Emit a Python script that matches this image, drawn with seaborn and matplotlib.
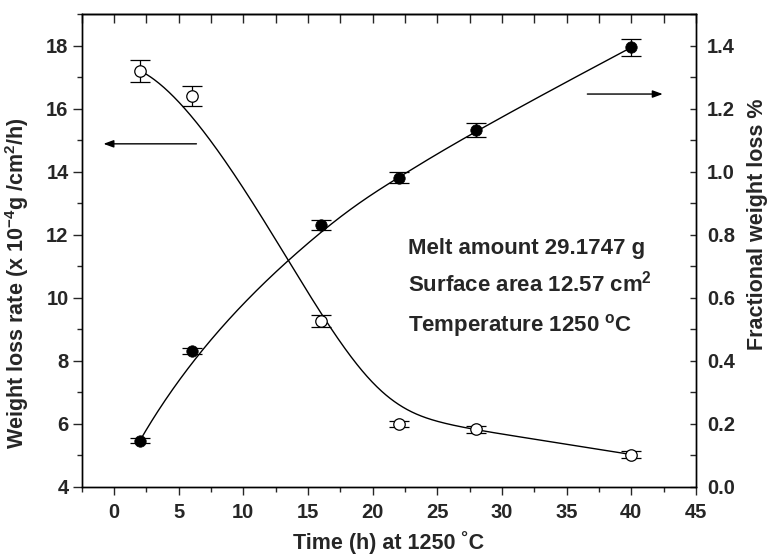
import numpy as np
import matplotlib
matplotlib.use("Agg")
import matplotlib.pyplot as plt
from matplotlib.ticker import MultipleLocator
import seaborn as sns

# ---- data ----
time_h = [2, 6, 16, 22, 28, 40]
rate = [17.2, 16.4, 9.25, 5.98, 5.82, 5.02]          # weight loss rate (x 1e-4 g/cm2/h)
rate_err = [0.35, 0.33, 0.19, 0.10, 0.12, 0.10]
frac = [0.146, 0.431, 0.829, 0.981, 1.133, 1.394]    # fractional weight loss %
frac_err = [0.008, 0.009, 0.016, 0.018, 0.022, 0.028]

x_ticks = [0, 5, 10, 15, 20, 25, 30, 35, 40, 45]
left_ticks = [4, 6, 8, 10, 12, 14, 16, 18]
right_ticks = [0.0, 0.2, 0.4, 0.6, 0.8, 1.0, 1.2, 1.4]

annotations = ["Melt amount 29.1747 g",
               r"Surface area 12.57 cm$^{\mathbf{2}}$",
               r"Temperature 1250 $^{\mathbf{o}}$C"]


def bspline_curve(px, py, k=3, n=400):
    """Clamped cubic B-spline using the data points as control points."""
    P = np.column_stack([px, py]).astype(float)
    m = len(P)
    kv = np.concatenate([np.zeros(k), np.linspace(0, 1, m - k + 1), np.ones(k)])
    t = np.linspace(0, 1, n)
    N = np.zeros((n, len(kv) - 1))
    for i in range(len(kv) - 1):
        N[:, i] = (t >= kv[i]) & (t < kv[i + 1])
    N[-1, :] = 0
    idx = np.max(np.where(kv[:-1] < kv[1:])[0])
    N[-1, idx] = 1
    for p in range(1, k + 1):
        Nn = np.zeros((n, len(kv) - 1 - p))
        for i in range(len(kv) - 1 - p):
            d1 = kv[i + p] - kv[i]
            d2 = kv[i + p + 1] - kv[i + 1]
            a = (t - kv[i]) / d1 * N[:, i] if d1 > 0 else 0
            b = (kv[i + p + 1] - t) / d2 * N[:, i + 1] if d2 > 0 else 0
            Nn[:, i] = a + b
        N = Nn
    C = N @ P
    return C[:, 0], C[:, 1]


sns.set_style("ticks")
plt.rcParams["font.family"] = ["Liberation Sans", "DejaVu Sans"]
plt.rcParams["font.weight"] = "bold"
plt.rcParams["axes.labelweight"] = "bold"
plt.rcParams["mathtext.fontset"] = "custom"
plt.rcParams["mathtext.rm"] = "Liberation Sans:bold"
plt.rcParams["mathtext.bf"] = "Liberation Sans:bold"
plt.rcParams["mathtext.it"] = "Liberation Sans:bold"
plt.rcParams["mathtext.default"] = "bf"

fig = plt.figure(figsize=(7.71, 5.56), dpi=100)
ax = fig.add_axes([0.106, 0.1247, 0.7967, 0.8501])
ax2 = ax.twinx()

# ---- weight loss rate (open circles, left axis) ----
cx, cy = bspline_curve(time_h, rate)
sns.lineplot(x=cx, y=cy, sort=False, estimator=None, ax=ax, color="black", lw=1.0, zorder=2)
ax.errorbar(time_h, rate, yerr=rate_err, fmt="none", ecolor="black", elinewidth=0.9,
            capsize=7.5, capthick=0.9, zorder=3)
sns.scatterplot(x=time_h, y=rate, ax=ax, marker="o", s=68, facecolor="white",
                edgecolor="black", linewidth=0.9, zorder=4)

# ---- fractional weight loss (filled circles, right axis) ----
fx, fy = bspline_curve(time_h, frac)
sns.lineplot(x=fx, y=fy, sort=False, estimator=None, ax=ax2, color="black", lw=1.0, zorder=2)
ax2.errorbar(time_h, frac, yerr=frac_err, fmt="none", ecolor="black", elinewidth=0.9,
             capsize=7.5, capthick=0.9, zorder=3)
sns.scatterplot(x=time_h, y=frac, ax=ax2, marker="o", s=68, color="black",
                edgecolor="black", linewidth=0.5, zorder=4)

# ---- axes ----
ax.set_xlim(-2.5, 45)
ax.set_ylim(4, 19)
ax2.set_ylim(0, 1.5)
ax.set_xticks(x_ticks)
ax.set_yticks(left_ticks)
ax2.set_yticks(right_ticks)
ax.set_xticklabels([str(v) for v in x_ticks])
ax.set_yticklabels([str(v) for v in left_ticks])
ax2.set_yticklabels([f"{v:.1f}" for v in right_ticks])
ax.xaxis.set_minor_locator(MultipleLocator(2.5))
ax.yaxis.set_minor_locator(MultipleLocator(1))
ax2.yaxis.set_minor_locator(MultipleLocator(0.1))

for a in (ax, ax2):
    for s in a.spines.values():
        s.set_linewidth(1.0)
        s.set_color("black")
        s.set_visible(True)

ax.tick_params(axis="x", which="major", direction="out", length=6, width=1.0,
               labelsize=14.5, pad=6, top=False)
ax.tick_params(axis="x", which="minor", direction="out", length=3.5, width=1.0, top=False)
ax.tick_params(axis="y", which="major", direction="out", length=6.5, width=1.0,
               labelsize=14.5, pad=3)
ax.tick_params(axis="y", which="minor", direction="out", length=3.5, width=1.0)
ax2.tick_params(axis="y", which="major", direction="in", length=4.5, width=1.0,
                labelsize=14.5, pad=8)
ax2.tick_params(axis="y", which="minor", direction="in", length=4.5, width=1.0)

top = ax.secondary_xaxis("top")
top.set_xticks(x_ticks)
top.xaxis.set_minor_locator(MultipleLocator(2.5))
top.tick_params(axis="x", which="both", direction="in", length=6.5, width=1.0,
                labeltop=False)
top.spines["top"].set_linewidth(1.0)

ax.set_xlabel("Time (h) at 1250 \u02daC", fontsize=15.5, fontweight="bold", labelpad=6)
ax.set_ylabel(r"Weight loss rate (x 10$^{\mathbf{-4}}$g /cm$^{\mathbf{2}}$/h)",
              fontsize=15.5, fontweight="bold")
ax.yaxis.set_label_coords(-0.082, 0.43)
ax2.set_ylabel("Fractional weight loss %", fontsize=15.5, fontweight="bold")
ax2.yaxis.set_label_coords(1.083, 0.555)

# ---- arrows ----
ax.annotate("", xy=(-0.82, 14.88), xytext=(6.37, 14.88),
            arrowprops=dict(arrowstyle="-|>,head_length=0.6,head_width=0.22",
                            mutation_scale=10, color="black", lw=1.0,
                            shrinkA=0, shrinkB=0))
ax2.annotate("", xy=(42.43, 1.246), xytext=(36.6, 1.246),
             arrowprops=dict(arrowstyle="-|>,head_length=0.6,head_width=0.22",
                             mutation_scale=10, color="black", lw=1.0,
                             shrinkA=0, shrinkB=0))

# ---- text annotations ----
for txt, yv in zip(annotations, [11.39, 10.19, 8.92]):
    ax.text(22.74, yv, txt, fontsize=16, fontweight="bold", ha="left", va="baseline")

fig.savefig("out.png", dpi=100)
